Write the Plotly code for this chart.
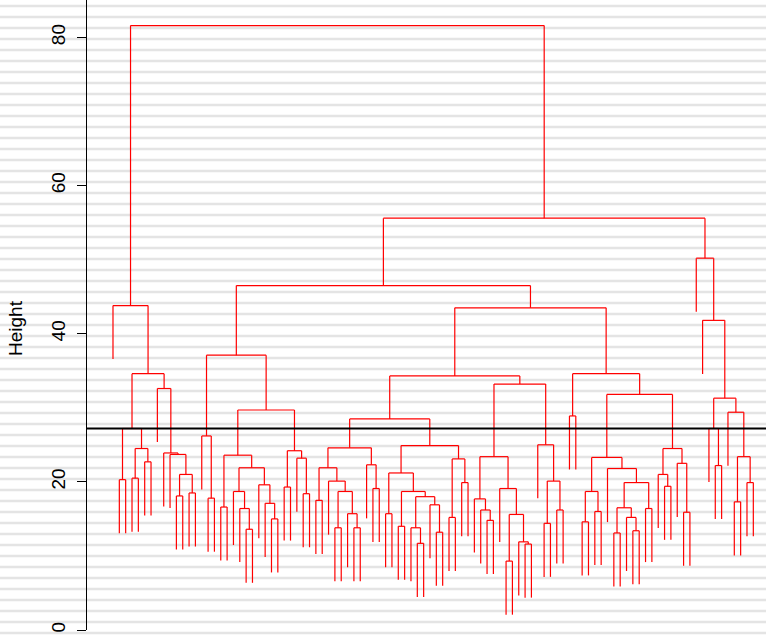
import plotly.graph_objects as go

# ---- data: dendrogram subtrees, nodes are (merge height, left, right); ints are leaf order positions ----
cluster_a = (43.8, 1,
             (34.6,
              (27.2, (20.3, 2, 3), (24.5, (20.5, 4, 5), (22.7, 6, 7))),
              (32.6, 8, (23.9, 9, (23.7, 10, (21.0, (18.1, 11, 12), (18.5, 13, 14)))))))

cluster_g = (37.1,
             (26.2, 15, (17.8, 16, 17)),
             (29.7,
              (23.6, (16.6, 18, 19),
               (21.9, (18.7, 20, (16.4, 21, (13.6, 22, 23))),
                (19.6, 24, (17.1, 25, (15.0, 26, 27))))),
              (24.2, (19.3, 28, 29), (23.2, 30, (18.4, 31, 32)))))

cluster_n = (28.5,
             (24.6,
              (21.9, (17.5, 33, 34),
               (20.1, 35, (18.7, (13.8, 36, 37), (15.7, 38, (13.8, 39, 40))))),
              (22.3, 41, (19.1, 42, 43))),
             (24.9,
              (21.2, (15.7, 44, 45),
               (18.7, (14.0, 46, 47),
                (18.0, (13.8, 48, (11.7, 49, 50)), (16.9, 51, (13.2, 52, 53))))),
              (23.1, (15.2, 54, 55), (19.9, 56, 57))))

cluster_q = (33.2,
             (23.4,
              (17.7, 58, (16.2, 59, (14.8, 60, 61))),
              (19.1, 62, (15.6, (9.3, 63, 64), (11.9, 65, (11.6, 66, 67))))),
             (25.0, 68, (20.1, (14.4, 69, 70), (16.2, 71, 72))))

cluster_p = (34.6,
             (28.9, 73, 74),
             (31.8,
              (23.3,
               (18.7, (14.6, 75, 76), (16.0, 77, 78)),
               (21.8, 79, (19.9, (16.5, (13.1, 80, 81), (15.2, 82, (13.4, 83, 84))), (16.4, 85, 86)))),
              (24.5,
               (21.0, 87, (19.4, 88, 89)),
               (22.5, 90, (15.9, 91, 92)))))

cluster_f = (50.2, 93,
             (41.8, 94,
              (31.3,
               (27.2, 95, (22.2, 96, 97)),
               (29.4, 98, (23.4, (17.3, 99, 100), (19.9, 101, 102))))))

upper_heights = [34.3, 43.5, 46.5, 55.6, 81.6]   # joins M, H, E, R, root
cut_height = 27.2
y_ticks = [0, 20, 40, 60, 80]

tree = (upper_heights[4], cluster_a,
        (upper_heights[3],
         (upper_heights[2], cluster_g,
          (upper_heights[1], (upper_heights[0], cluster_n, cluster_q), cluster_p)),
         cluster_f))

# ---- build segments ----
all_h = []
def collect(node):
    if isinstance(node, int):
        return
    all_h.append(node[0])
    collect(node[1]); collect(node[2])
collect(tree)
hang = 0.1 * (max(all_h) - min(all_h))

xs, ys = [], []
def seg(x0, y0, x1, y1):
    xs.extend([x0, x1, None]); ys.extend([y0, y1, None])

def walk(node):
    if isinstance(node, int):
        return float(node), None
    h, l, r = node
    out = []
    for c in (l, r):
        xc, hc = walk(c)
        seg(xc, h, xc, (h - hang) if hc is None else hc)
        out.append(xc)
    seg(out[0], h, out[1], h)
    return (out[0] + out[1]) / 2, h
walk(tree)

fig = go.Figure()
fig.add_trace(go.Scatter(x=xs, y=ys, mode="lines",
                         line=dict(color="#ff0000", width=1.2),
                         hoverinfo="skip", showlegend=False))

W, H = 766, 639
ml, mt, mb = 87, 0, 9
ph = H - mt - mb

# background stripes across the whole page
shapes = []
for k in range(58):
    py = 6 + 11 * k
    yp = (H - mb - py) / ph
    shapes.append(dict(type="line", xref="paper", yref="paper",
                       x0=-ml / (W - ml), x1=1.0, y0=yp, y1=yp,
                       line=dict(color="#e4e4e4", width=2.5), layer="below"))
shapes.append(dict(type="line", xref="paper", yref="y", x0=0, x1=1,
                   y0=cut_height, y1=cut_height,
                   line=dict(color="black", width=2), layer="above"))

fig.update_layout(
    width=W, height=H,
    margin=dict(l=ml, r=0, t=mt, b=mb),
    paper_bgcolor="white", plot_bgcolor="rgba(0,0,0,0)",
    shapes=shapes,
    font=dict(family="Liberation Sans, Arial, sans-serif", color="black"),
    xaxis=dict(visible=False, range=[-3.10, 104.0]),
    yaxis=dict(range=[0, 85.05], tickvals=y_ticks, ticktext=[str(v) for v in y_ticks],
               showline=True, linecolor="black", linewidth=1,
               ticks="outside", ticklen=9, tickcolor="black", tickwidth=1,
               tickangle=-90, tickfont=dict(size=19, color="black"),
               showgrid=False, zeroline=False, ticklabelstandoff=4),
    annotations=[dict(text="Height", textangle=-90, xref="paper", yref="paper",
                      x=(15 - ml) / (W - ml), y=1 - 328 / ph, xanchor="center", yanchor="middle",
                      showarrow=False, font=dict(size=19, color="black"))],
)

fig.write_html("out.html", config={"displayModeBar": False},
               post_script="document.body.style.margin='0';document.body.style.overflow='hidden';")
